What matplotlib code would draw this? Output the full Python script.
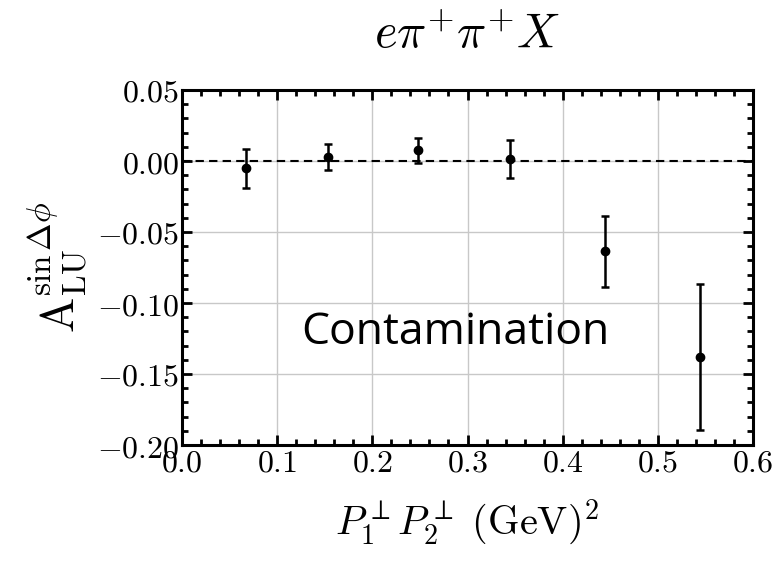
import numpy as np
import matplotlib
matplotlib.use('Agg')
from matplotlib import pyplot as plt
from matplotlib.ticker import MultipleLocator, FuncFormatter

plt.rcParams['mathtext.fontset'] = 'cm'
plt.rcParams['font.family'] = 'serif'
plt.rcParams['font.serif'] = ['DejaVu Serif']

# binned asymmetry, same-sign pion pairs
pt_prod = [0.067, 0.153, 0.248, 0.345, 0.445, 0.544]
a_lu = [-0.0051, 0.0030, 0.0077, 0.0014, -0.0636, -0.1380]
a_err = [0.0136, 0.0090, 0.0088, 0.0137, 0.0250, 0.0515]

fig = plt.figure(figsize=(7.83, 5.64), dpi=100)
ax = fig.add_axes([182/783, 1 - 445/564, (753-182)/783, (445-90)/564])

ax.grid(True, color='#c8c8c8', linewidth=1.0)
ax.set_axisbelow(True)
ax.axhline(0, color='black', linestyle='--', linewidth=1.5, dashes=(4, 2.5))
ax.errorbar(pt_prod, a_lu, yerr=a_err, fmt='o', color='black', markersize=6,
            capsize=3, elinewidth=1.8, capthick=1.8)

ax.set_xlim(0, 0.6)
ax.set_ylim(-0.2, 0.05)
ax.xaxis.set_major_locator(MultipleLocator(0.1))
ax.xaxis.set_minor_locator(MultipleLocator(0.02))
ax.yaxis.set_major_locator(MultipleLocator(0.05))
ax.yaxis.set_minor_locator(MultipleLocator(0.01))
ax.xaxis.set_major_formatter(FuncFormatter(lambda v, p: r'$%.1f$' % v))
ax.yaxis.set_major_formatter(FuncFormatter(lambda v, p: r'$%.2f$' % v))
ax.tick_params(which='both', direction='in', top=True, right=True, width=2)
ax.tick_params(which='major', length=7, labelsize=23, pad=2)
ax.tick_params(which='minor', length=4)
for s in ax.spines.values():
    s.set_linewidth(2.2)

ax.set_xlabel(r'$P_1^{\perp}P_2^{\perp}\ (\mathrm{GeV})^2$', fontsize=29, labelpad=14)
ax.set_ylabel(r'$\mathrm{A}_{\mathrm{LU}}^{\sin\Delta\phi}$', fontsize=34, labelpad=6)
ax.set_title(r'$e\pi^{+}\pi^{+}X$', fontsize=35, pad=30)

ax.text(0.287, -0.121, 'Contamination', fontsize=32, family='Open Sans',
        ha='center', va='center')

fig.savefig('out.png', dpi=100)
